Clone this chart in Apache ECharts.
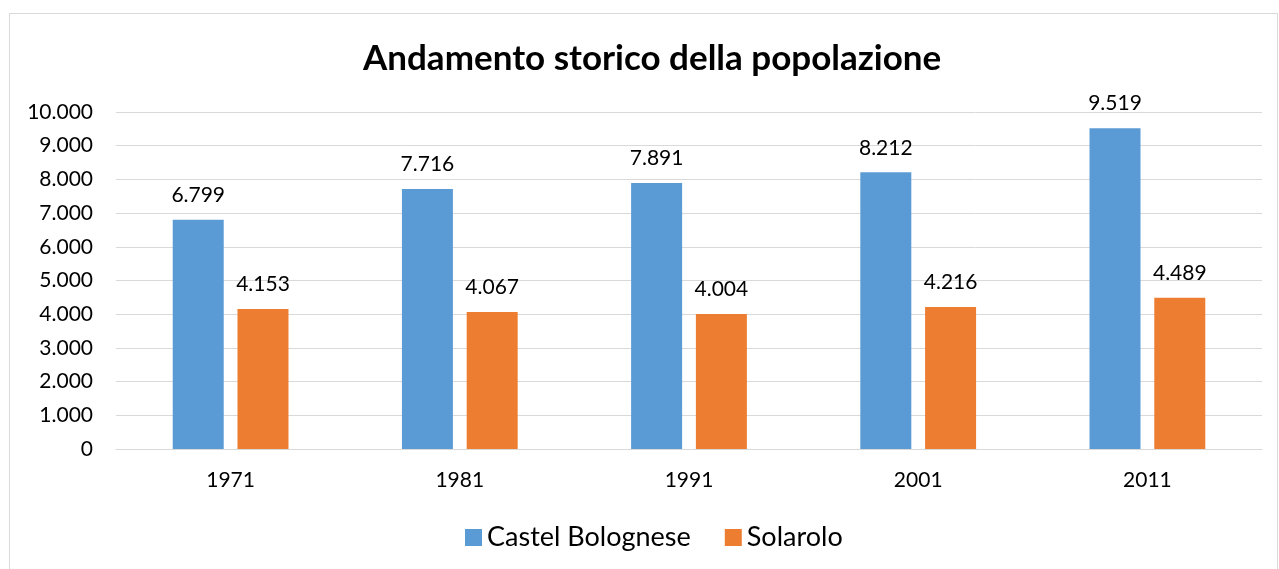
<!DOCTYPE html>
<html>
<head>
<meta charset="utf-8">
<script src="https://cdn.jsdelivr.net/npm/echarts@6/dist/echarts.min.js"></script>
<style>
  html, body { margin: 0; padding: 0; background: #fff; }
  #frame { position: absolute; left: 9px; top: 13px; width: 1267px; height: 600px; border: 1px solid #d9d9d9; }
  #main { position: absolute; left: 0; top: 0; width: 1279px; height: 569px; }
</style>
</head>
<body>
<div id="frame"></div>
<div id="main"></div>
<script>
// anni dei censimenti
var years = ['1971', '1981', '1991', '2001', '2011'];
// popolazione residente
var castelBolognese = [6799, 7716, 7891, 8212, 9519];
var solarolo = [4153, 4067, 4004, 4216, 4489];

// separatore delle migliaia all'italiana
var fmt = function (v) {
    return String(v).replace(/\B(?=(\d{3})+(?!\d))/g, '.');
};

var font = 'Lato, "Open Sans", sans-serif';
var myChart = echarts.init(document.getElementById('main'));

var option = {
    animation: false,
    title: {
        text: 'Andamento storico della popolazione',
        left: 358,
        top: 36,
        textStyle: { fontFamily: font, fontSize: 35, fontWeight: 'bold', color: '#000' }
    },
    legend: {
        data: ['Castel Bolognese', 'Solarolo'],
        bottom: 13,
        left: 460,
        itemWidth: 17,
        itemHeight: 17,
        itemGap: 34,
        itemTextGap: 8,
        icon: 'rect',
        textStyle: { fontFamily: font, fontSize: 27, color: '#000' }
    },
    grid: { left: 116, right: 17, top: 112, bottom: 120, containLabel: false },
    xAxis: {
        type: 'category',
        data: years,
        axisLine: { lineStyle: { color: '#d9d9d9' } },
        axisTick: { show: false },
        axisLabel: { fontFamily: font, fontSize: 21, color: '#000', margin: 21 }
    },
    yAxis: {
        type: 'value',
        min: 0,
        max: 10000,
        interval: 1000,
        axisLine: { show: false },
        axisTick: { show: false },
        splitLine: { lineStyle: { color: '#d9d9d9' } },
        axisLabel: { fontFamily: font, fontSize: 21, color: '#000', margin: 23, formatter: fmt }
    },
    series: [
        {
            name: 'Castel Bolognese',
            type: 'bar',
            data: castelBolognese,
            barWidth: 51,
            barGap: '27%',
            itemStyle: { color: '#5b9bd5' },
            label: {
                show: true, position: 'top', distance: 14,
                fontFamily: font, fontSize: 21, color: '#000',
                formatter: function (p) { return fmt(p.value); }
            }
        },
        {
            name: 'Solarolo',
            type: 'bar',
            data: solarolo,
            barWidth: 51,
            itemStyle: { color: '#ed7d31' },
            label: {
                show: true, position: 'top', distance: 14,
                fontFamily: font, fontSize: 21, color: '#000',
                formatter: function (p) { return fmt(p.value); }
            }
        }
    ]
};

myChart.setOption(option, true);
</script>
</body>
</html>
